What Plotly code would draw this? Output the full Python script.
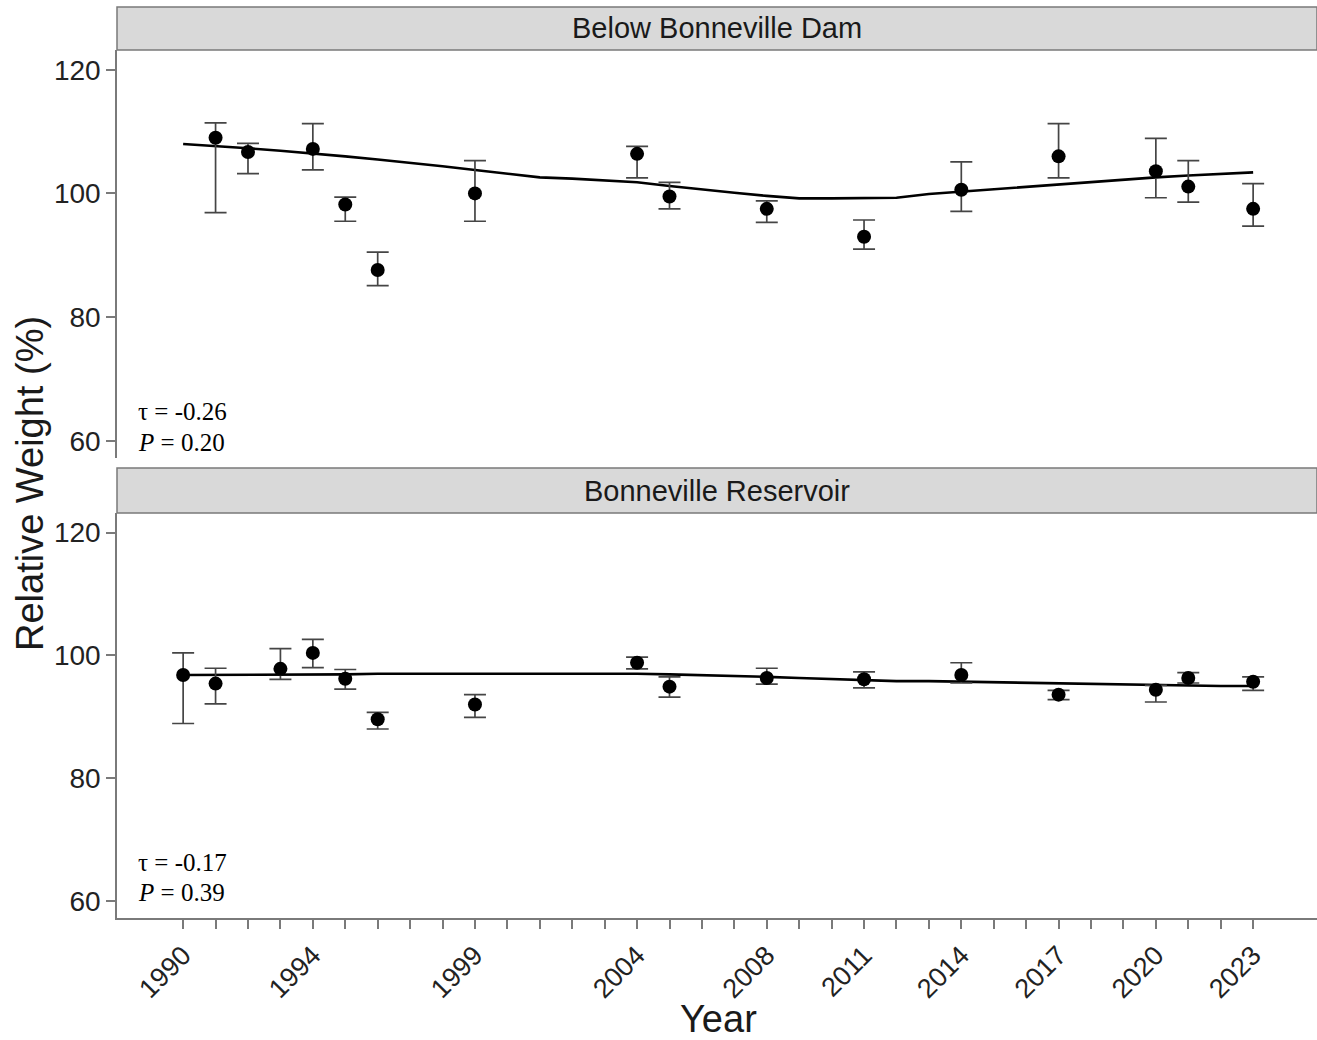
import plotly.graph_objects as go

# ---------------- data ----------------
top_years = [1991, 1992, 1994, 1995, 1996, 1999, 2004, 2005, 2008, 2011, 2014, 2017, 2020, 2021, 2023]
top_mean = [109.0, 106.7, 107.2, 98.2, 87.6, 100.0, 106.4, 99.5, 97.5, 93.0, 100.6, 106.0, 103.6, 101.1, 97.5]
top_upper = [111.4, 108.1, 111.3, 99.4, 90.5, 105.3, 107.6, 101.8, 98.8, 95.7, 105.1, 111.3, 108.9, 105.3, 101.6]
top_lower = [96.9, 103.2, 103.8, 95.5, 85.1, 95.5, 102.5, 97.5, 95.3, 91.0, 97.1, 102.5, 99.3, 98.6, 94.7]

bot_years = [1990, 1991, 1993, 1994, 1995, 1996, 1999, 2004, 2005, 2008, 2011, 2014, 2017, 2020, 2021, 2023]
bot_mean = [96.8, 95.4, 97.8, 100.4, 96.2, 89.6, 92.0, 98.8, 94.9, 96.3, 96.1, 96.8, 93.6, 94.4, 96.3, 95.7]
bot_upper = [100.4, 97.9, 101.1, 102.6, 97.7, 90.7, 93.6, 99.7, 96.5, 97.9, 97.3, 98.8, 94.3, 95.1, 97.2, 96.5]
bot_lower = [88.9, 92.1, 96.1, 98.0, 94.5, 88.0, 89.9, 97.8, 93.2, 95.3, 94.7, 95.5, 92.8, 92.4, 95.5, 94.3]

trend_years = list(range(1990, 2024))
top_trend = [108.0, 107.7, 107.3, 106.9, 106.5, 106.0, 105.5, 105.0, 104.4, 103.8,
             103.2, 102.6, 102.4, 102.1, 101.8, 101.2, 100.6, 100.1, 99.6, 99.2,
             99.2, 99.2, 99.3, 99.9, 100.3, 100.6, 101.0, 101.4, 101.8, 102.2,
             102.6, 102.9, 103.1, 103.4]
bot_trend = [96.8, 96.8, 96.8, 96.9, 96.9, 96.9, 97.0, 97.0, 97.0, 97.1,
             97.1, 97.1, 97.1, 97.0, 97.0, 96.9, 96.8, 96.6, 96.5, 96.3,
             96.1, 95.9, 95.8, 95.8, 95.7, 95.6, 95.5, 95.4, 95.3, 95.2,
             95.1, 95.1, 95.0, 95.0]

panel_titles = ["Below Bonneville Dam", "Bonneville Reservoir"]
panel_tau = ["-0.26", "-0.17"]
panel_p = ["0.20", "0.39"]

label_years = [1990, 1994, 1999, 2004, 2008, 2011, 2014, 2017, 2020, 2023]
tick_years = list(range(1990, 2024))
tick_text = [str(y) if y in label_years else "" for y in tick_years]
y_ticks = [60, 80, 100, 120]

# ---------------- layout geometry ----------------
W, H = 1317, 1040
ML, MR, MT, MB = 117, 0, 7, 122
PH = H - MT - MB


def py(p):
    return (H - MB - p) / PH


def px(p):
    return (p - ML) / (W - ML - MR)


top_dom = [py(458), py(50)]
bot_dom = [0, py(513)]

fig = go.Figure()

axis_grey = "#7a7a7a"
err_col = "#454545"

panels = [
    (top_years, top_mean, top_upper, top_lower, top_trend, "x", "y"),
    (bot_years, bot_mean, bot_upper, bot_lower, bot_trend, "x2", "y2"),
]
for yrs, mean, up, lo, trend, xa, ya in panels:
    fig.add_trace(go.Scatter(x=trend_years, y=trend, mode="lines",
                             line=dict(color="black", width=2.6),
                             xaxis=xa, yaxis=ya, showlegend=False, hoverinfo="skip"))
    fig.add_trace(go.Scatter(
        x=yrs, y=mean, mode="markers",
        marker=dict(color="black", size=14),
        error_y=dict(type="data", symmetric=False,
                     array=[u - m for u, m in zip(up, mean)],
                     arrayminus=[m - l for m, l in zip(mean, lo)],
                     color=err_col, thickness=1.7, width=11),
        xaxis=xa, yaxis=ya, showlegend=False))

xr = [1987.96, 2024.97]
yr = [57.2, 123.2]
common_y = dict(range=yr, tickvals=y_ticks, ticks="outside", ticklen=9, tickwidth=1.5,
                tickcolor=axis_grey, showline=True, linecolor=axis_grey, linewidth=1.5,
                showgrid=False, zeroline=False,
                tickfont=dict(family="Liberation Sans, Arial", size=28, color="#222"))

fig.update_layout(
    width=W, height=H,
    margin=dict(l=ML, r=MR, t=MT, b=MB),
    paper_bgcolor="white", plot_bgcolor="white",
    xaxis=dict(domain=[0, 1], range=xr, anchor="y", showticklabels=False, ticks="",
               showline=False, showgrid=False, zeroline=False),
    yaxis=dict(domain=top_dom, anchor="x", **common_y),
    xaxis2=dict(domain=[0, 1], range=xr, anchor="y2", tickvals=tick_years, ticktext=tick_text,
                tickangle=-45, ticks="outside", ticklen=9, tickwidth=1.5, tickcolor=axis_grey,
                showline=True, linecolor=axis_grey, linewidth=1.5, showgrid=False, zeroline=False,
                tickfont=dict(family="Liberation Sans, Arial", size=27, color="#222")),
    yaxis2=dict(domain=bot_dom, anchor="x2", **common_y),
)

# strips
strips = [(7, 50), (468, 513)]
for (t, b), title in zip(strips, panel_titles):
    fig.add_shape(type="rect", xref="paper", yref="paper", x0=0, x1=1.0, y0=py(b), y1=py(t),
                  fillcolor="#d9d9d9", line=dict(color=axis_grey, width=1.5), layer="below")
    fig.add_annotation(xref="paper", yref="paper", x=0.5, y=py((t + b) / 2), text=title,
                       showarrow=False, xanchor="center", yanchor="middle",
                       font=dict(family="Liberation Sans, Arial", size=29, color="#1a1a1a"))

# stats annotations
stat_pos = [(411, 442), (862, 892)]
for (ty, pyy), tau, p in zip(stat_pos, panel_tau, panel_p):
    fig.add_annotation(xref="paper", yref="paper", x=px(136), y=py(ty), text="τ = " + tau,
                       showarrow=False, xanchor="left", yanchor="middle",
                       font=dict(family="Liberation Serif, Times New Roman", size=25, color="black"))
    fig.add_annotation(xref="paper", yref="paper", x=px(136), y=py(pyy), text="<i>P</i> = " + p,
                       showarrow=False, xanchor="left", yanchor="middle",
                       font=dict(family="Liberation Serif, Times New Roman", size=25, color="black"))

# axis titles
fig.add_annotation(xref="paper", yref="paper", x=px(30), y=py(484), text="Relative Weight (%)",
                   textangle=-90, showarrow=False, xanchor="center", yanchor="middle",
                   font=dict(family="Liberation Sans, Arial", size=38, color="#1a1a1a"))
fig.add_annotation(xref="paper", yref="paper", x=px(718), y=py(1019), text="Year",
                   showarrow=False, xanchor="center", yanchor="middle",
                   font=dict(family="Liberation Sans, Arial", size=38, color="#1a1a1a"))

fig.write_html("out.html", config={"displayModeBar": False},
               post_script="document.body.style.margin='0';document.body.style.overflow='hidden';")
